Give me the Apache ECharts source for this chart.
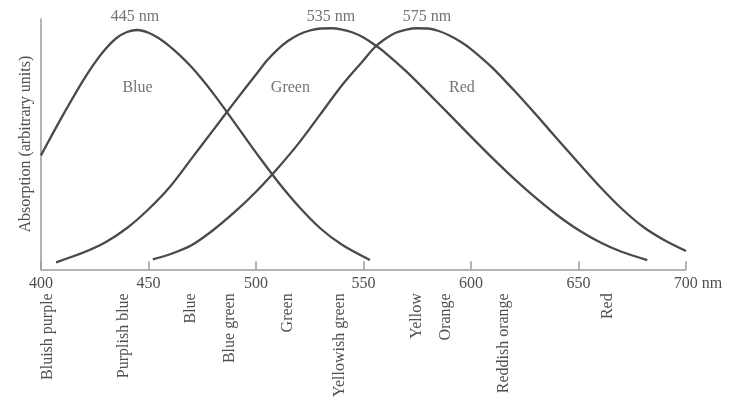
<!DOCTYPE html>
<html><head><meta charset="utf-8">
<script src="https://cdn.jsdelivr.net/npm/echarts@6/dist/echarts.min.js"></script>
<style>html,body{margin:0;background:#fff}#c{width:734px;height:400px}</style>
</head><body><div id="c"></div>
<script>
// ---- data (wavelength nm, absorption in arbitrary units 0-100) ----
const xTicks = [400, 450, 500, 550, 600, 650, 700];
const blueCurve = [[400,45.5],[405,53.5],[410,61.3],[415,68.8],[420,76],[425,82.5],[430,88],[435,92.3],[440,94.8],[445,95.6],[450,94.5],[455,92.2],[460,89],[465,85.2],[470,80.8],[475,75.8],[480,70.4],[485,64.6],[490,58.6],[495,52.6],[500,46.6],[510,35.2],[520,25],[530,16.3],[540,9.8],[553,3.7]];
const greenCurve = [[407,2.8],[420,6.8],[430,10.8],[440,16.5],[450,24],[460,33],[470,44.2],[480,55.5],[490,66.8],[500,77.8],[505,83.3],[510,87.8],[515,91.3],[520,93.8],[525,95.4],[530,96.2],[535,96.3],[540,95.8],[545,94.6],[550,92.6],[555,89.8],[560,86.6],[570,79],[580,70.5],[590,61.8],[600,53],[610,44.4],[620,36.2],[630,28.6],[640,21.7],[650,15.7],[660,10.8],[670,7],[682,3.7]];
const redCurve = [[452,4],[460,6],[470,9.6],[480,15.6],[490,22.8],[500,31],[510,40.3],[520,50.5],[530,62],[540,73.5],[550,83.5],[555,88.5],[560,92],[565,94.5],[570,95.8],[575,96.3],[580,96.2],[585,95.2],[590,93.4],[595,91],[600,88],[610,80.5],[620,71.5],[630,62],[640,52.2],[650,42.5],[660,33],[670,24.3],[680,17],[690,11.6],[700,7.3]];
const peakLabels = [[443.7,101,'445 nm'],[534.9,101,'535 nm'],[579.5,101,'575 nm']];
const curveNames = [[444.9,72.5,'Blue'],[516,72.5,'Green'],[595.8,72.5,'Red']];
const colorNames = ['Bluish purple','Purplish blue','Blue','Blue green','Green','Yellowish green','Yellow','Orange','Reddish orange','Red'];
const colorPositions = [403.1,438.7,469.7,487.8,514.6,539,574.7,588.2,615.2,663.5];

const FONT = 'Liberation Serif';
const TXT = '#4f4f4f';
const AX = '#9a9a9a';
const LINE = '#4a4a4a';

const chart = echarts.init(document.getElementById('c'));
const lineSeries = (name, data) => ({
  name, type: 'line', data, smooth: 0.3, symbol: 'none',
  lineStyle: { color: LINE, width: 2.3 }, z: 2
});
chart.setOption({
  animation: false,
  backgroundColor: '#fff',
  grid: { left: 41, right: 48, top: 19, bottom: 130, containLabel: false },
  xAxis: [{
    type: 'value', min: xTicks[0], max: xTicks[xTicks.length - 1], interval: 50,
    axisLine: { show: true, lineStyle: { color: AX, width: 1.5 } },
    axisTick: { show: true, inside: true, length: 8, lineStyle: { color: AX, width: 1.5 } },
    splitLine: { show: false },
    axisLabel: {
      margin: 6, color: TXT, fontFamily: FONT, fontSize: 16,
      formatter: v => v === 700 ? '{p|}{n|700}{u| nm}' : String(v),
      rich: {
        p: { width: 24, fontFamily: FONT, fontSize: 16 },
        n: { fontFamily: FONT, fontSize: 16, color: TXT },
        u: { fontFamily: FONT, fontSize: 16, color: TXT }
      }
    }
  }, {
    type: 'value', min: xTicks[0], max: xTicks[xTicks.length - 1], position: 'bottom',
    axisLine: { show: false }, axisTick: { show: false }, splitLine: { show: false },
    axisLabel: {
      customValues: colorPositions, rotate: 90, margin: 24,
      color: TXT, fontFamily: FONT, fontSize: 16,
      formatter: v => {
        let best = 0, d = Infinity;
        colorPositions.forEach((p, i) => { if (Math.abs(p - v) < d) { d = Math.abs(p - v); best = i; } });
        return colorNames[best];
      }
    }
  }],
  yAxis: {
    type: 'value', min: 0, max: 100,
    axisLine: { show: true, lineStyle: { color: AX, width: 1.5 } },
    axisTick: { show: false }, axisLabel: { show: false }, splitLine: { show: false },
    name: 'Absorption (arbitrary units)', nameLocation: 'middle', nameGap: 7,
    nameTextStyle: { color: TXT, fontFamily: FONT, fontSize: 16 }
  },
  series: [
    lineSeries('Blue', blueCurve),
    lineSeries('Green', greenCurve),
    lineSeries('Red', redCurve),
    {
      type: 'scatter', clip: false, symbolSize: 1,
      itemStyle: { color: 'rgba(0,0,0,0)' },
      data: peakLabels.concat(curveNames),
      label: {
        show: true, position: 'inside', color: TXT, fontFamily: FONT, fontSize: 16,
        formatter: p => p.value[2]
      },
      z: 3
    }
  ]
});
</script></body></html>
